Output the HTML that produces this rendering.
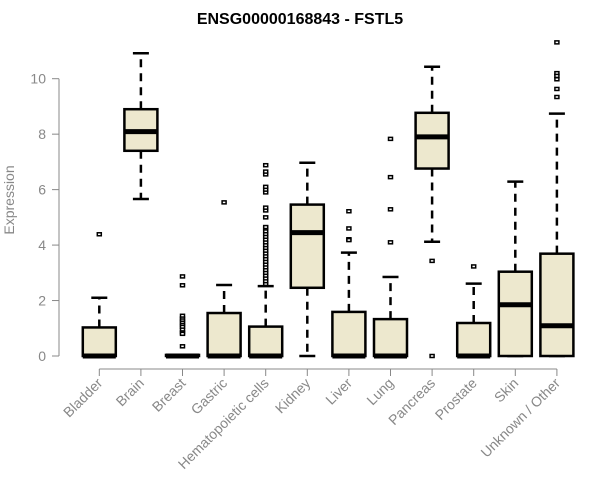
<!DOCTYPE html>
<html><head><meta charset="utf-8"><style>
body{margin:0;background:#fff;}
svg{display:block;font-family:"Liberation Sans",Arial,sans-serif;}
</style></head><body>
<svg id="chart" width="600" height="500"></svg>
<script>
const categories=["Bladder","Brain","Breast","Gastric","Hematopoietic cells","Kidney","Liver","Lung","Pancreas","Prostate","Skin","Unknown / Other"];
const lowWhisker=[0,5.66,0,0,0,0,0,0,4.12,0,0,0];
const q1=[0,7.4,0,0,0,2.46,0,0,6.76,0,0,0];
const medians=[0,8.09,0,0,0,4.45,0,0,7.9,0,1.85,1.09];
const q3=[1.03,8.9,0.04,1.55,1.06,5.46,1.59,1.33,8.77,1.19,3.04,3.69];
const highWhisker=[2.1,10.92,0.04,2.56,2.52,6.97,3.73,2.85,10.43,2.61,6.29,8.74];
const outliers=[[4.39],[],[2.87,2.55,1.45,1.35,1.28,1.2,1.12,1.05,0.95,0.85,0.8,0.35],[5.54],
[2.6,2.7,2.8,2.9,3.0,3.1,3.2,3.3,3.4,3.5,3.6,3.7,3.8,3.9,4.0,4.1,4.2,4.3,4.4,4.5,4.6,4.65,5.0,5.25,5.35,5.9,6.0,6.1,6.55,6.65,6.88],
[],[5.22,4.6,4.21,4.18],[7.83,6.45,5.29,4.1],[3.43,0],[3.23],[],[11.31,10.2,10.1,9.98,9.63,9.34]];
const yTicks=[0,2,4,6,8,10];
const NS="http://www.w3.org/2000/svg";
const svg=document.getElementById('chart');
const xc=i=>99.3+41.6*i;
const ys=v=>356-27.73*v;
function el(t,a,p){const e=document.createElementNS(NS,t);for(const k in a)e.setAttribute(k,a[k]);(p||svg).appendChild(e);return e;}
const title=el('text',{x:300,y:24,'text-anchor':'middle','font-size':16,'font-weight':'bold',fill:'#000'});
title.textContent='ENSG00000168843 - FSTL5';


const yl=el('text',{x:0,y:0,transform:'translate(14,200) rotate(-90)','text-anchor':'middle','font-size':14,fill:'#888'});
yl.textContent='Expression';


const yax=el('path',{d:`M59,${ys(0)}V${ys(10)}`,stroke:'#888',fill:'none'});


yTicks.forEach(t=>{
  el('line',{x1:52,x2:59,y1:ys(t),y2:ys(t),stroke:'#888'});
  const tx=el('text',{x:46,y:ys(t)+5,'text-anchor':'end','font-size':14,fill:'#888'});
  tx.textContent=t;
  
  
});
const xax=el('line',{x1:xc(0),x2:xc(11),y1:369,y2:369,stroke:'#888'});


categories.forEach((c,i)=>{
  const x=xc(i);
  el('line',{x1:x,x2:x,y1:369,y2:376,stroke:'#888'});
  const tx=el('text',{x:0,y:0,transform:`translate(${x+4},${384}) rotate(-45)`,'text-anchor':'end','font-size':14,fill:'#888'});
  tx.textContent=c;
  
  
  const g=el('g',{});
  
  
  el('line',{x1:x,x2:x,y1:ys(q3[i]),y2:ys(highWhisker[i]),stroke:'#000','stroke-width':2.5,'stroke-dasharray':'8,6'},g);
  el('line',{x1:x,x2:x,y1:ys(q1[i]),y2:ys(lowWhisker[i]),stroke:'#000','stroke-width':2.5,'stroke-dasharray':'8,6'},g);
  el('line',{x1:x-8,x2:x+8,y1:ys(highWhisker[i]),y2:ys(highWhisker[i]),stroke:'#000','stroke-width':2.5},g);
  el('line',{x1:x-8,x2:x+8,y1:ys(lowWhisker[i]),y2:ys(lowWhisker[i]),stroke:'#000','stroke-width':2.5},g);
  el('rect',{x:x-16.5,y:ys(q3[i]),width:33,height:Math.max(ys(q1[i])-ys(q3[i]),0.5),fill:'#EDE8CE',stroke:'#000','stroke-width':2.5},g);
  el('line',{x1:x-16.5,x2:x+16.5,y1:ys(medians[i]),y2:ys(medians[i]),stroke:'#000','stroke-width':5},g);
  outliers[i].forEach(v=>{
    const o=el('rect',{x:x-2,y:ys(v)-1.5,width:4,height:3,fill:'#fff',stroke:'#000','stroke-width':1.5},g);
    
    
  });
});
</script>
</body></html>
